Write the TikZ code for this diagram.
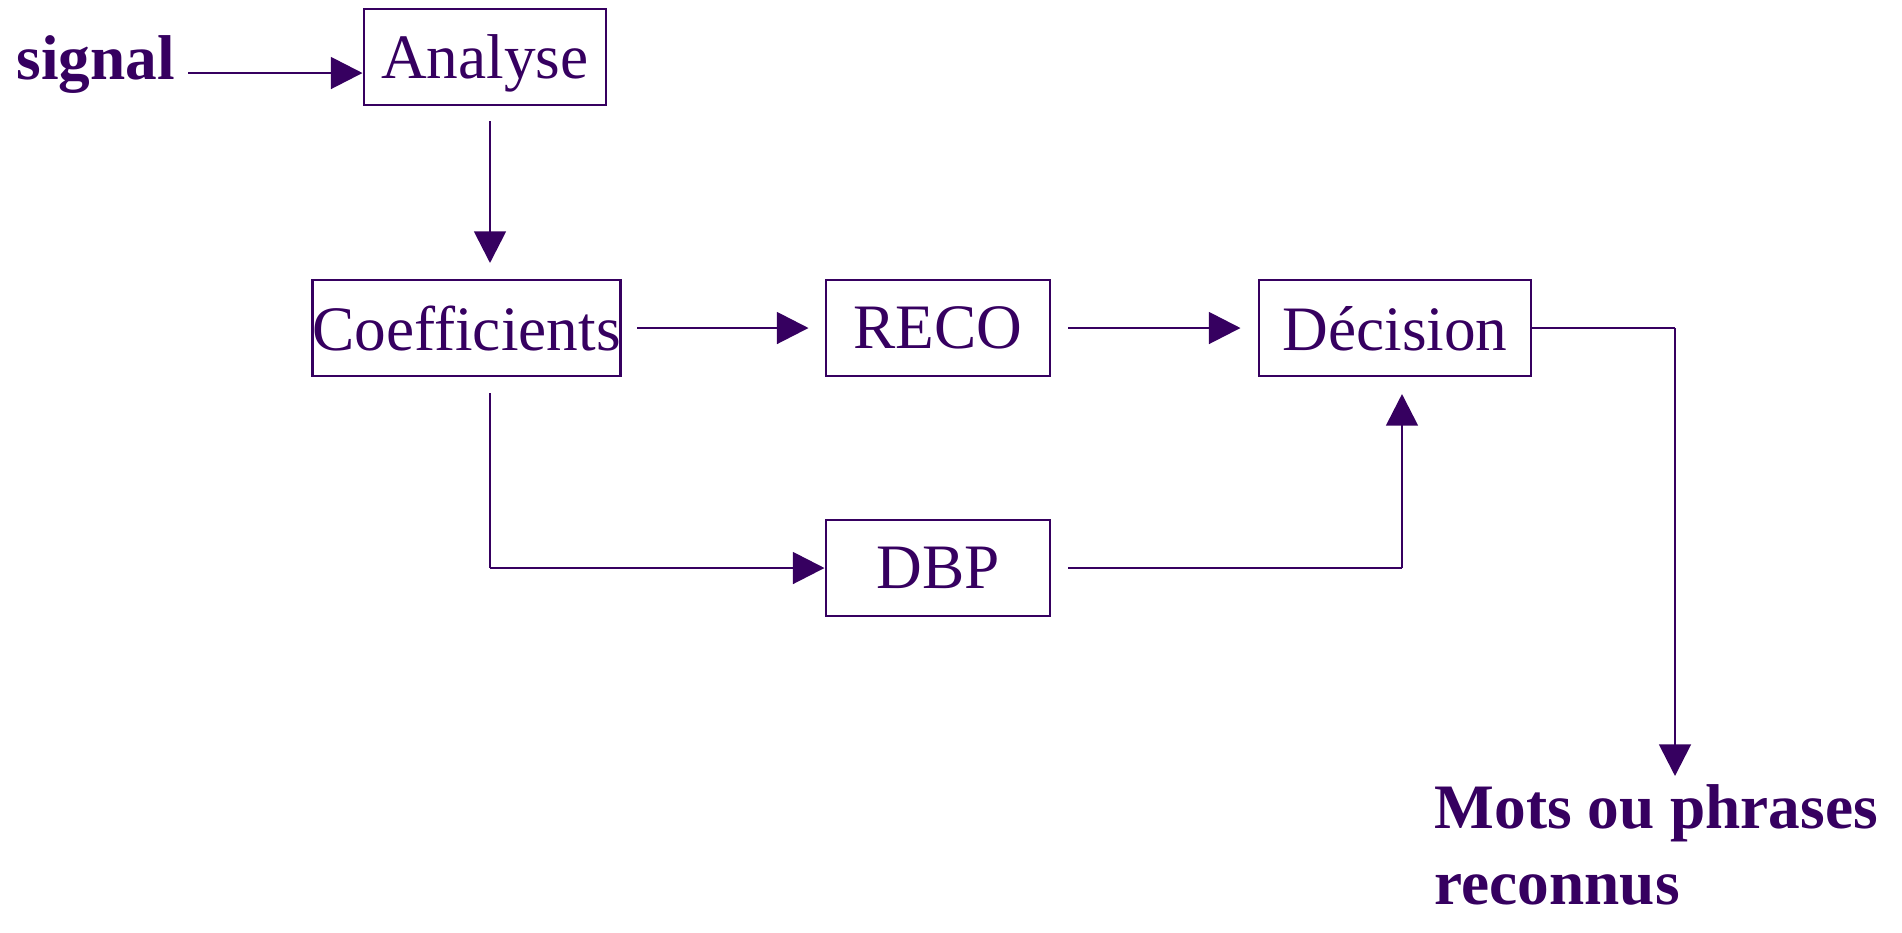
\documentclass[tikz,border=0pt]{standalone}
\usepackage{fontspec}
\setmainfont{Liberation Serif}
\usetikzlibrary{arrows.meta}
\definecolor{trait}{HTML}{360060}
\tikzset{
    boite/.style={draw=trait,line width=0.8pt,inner sep=0pt,minimum height=0.96cm,text depth=0pt,text=trait,font=\fontsize{18}{21.5}\selectfont},
    fleche/.style={draw=trait,line width=0.8pt,-{Triangle[length=9pt,width=9pt]}},
    ligne/.style={draw=trait,line width=0.8pt},
    etiquette/.style={text=trait,inner sep=0pt,font=\fontsize{18}{21.5}\selectfont\bfseries}
}
\begin{document}
\begin{tikzpicture}[x=0.01cm,y=-0.01cm]
        \useasboundingbox (0,0) rectangle (1902,932);
        \node[etiquette,anchor=base west] (signal) at (16,79) {signal};
        \node[boite,minimum width=2.42cm] (analyse) at (485,57) {Analyse};
        \node[boite,minimum width=3.05cm] (coeff) at (466.5,328) {Coefficients};
        \node[boite,minimum width=2.24cm] (reco) at (938,328) {RECO};
        \node[boite,minimum width=2.72cm] (decision) at (1395,328) {Décision};
        \node[boite,minimum width=2.24cm] (dbp) at (938,568) {DBP};
        \node[etiquette,anchor=base west,align=left] (mots) at (1434,904) {Mots ou phrases\\reconnus};

        \coordinate (s1) at (188,73);
        \draw[fleche] (s1) -- (s1 -| analyse.west);
        \coordinate (a1) at (490,121);
        \coordinate (a2) at (490,263);
        \draw[fleche] (a1) -- (a2);
        \draw[fleche] ([xshift=15*0.01cm]coeff.east) -- ([xshift=-16*0.01cm]reco.west);
        \draw[fleche] ([xshift=17*0.01cm]reco.east) -- ([xshift=-17*0.01cm]decision.west);
        % sortie vers les mots reconnus
        \coordinate (d1) at (1675,328);
        \coordinate (d2) at (1675,776);
        \draw[ligne] (decision.east) -- (d1);
        \draw[fleche] (d1) -- (d2);
        % branche DBP
        \coordinate (c1) at (490,393);
        \coordinate (c2) at (490,568);
        \draw[ligne] (c1) -- (c2);
        \draw[fleche] (c2) -- (dbp.west);
        \coordinate (b1) at (1402,568);
        \coordinate (b2) at (1402,394);
        \draw[ligne] ([xshift=17*0.01cm]dbp.east) -- (b1);
        \draw[fleche] (b1) -- (b2);
    \end{tikzpicture}
\end{document}
